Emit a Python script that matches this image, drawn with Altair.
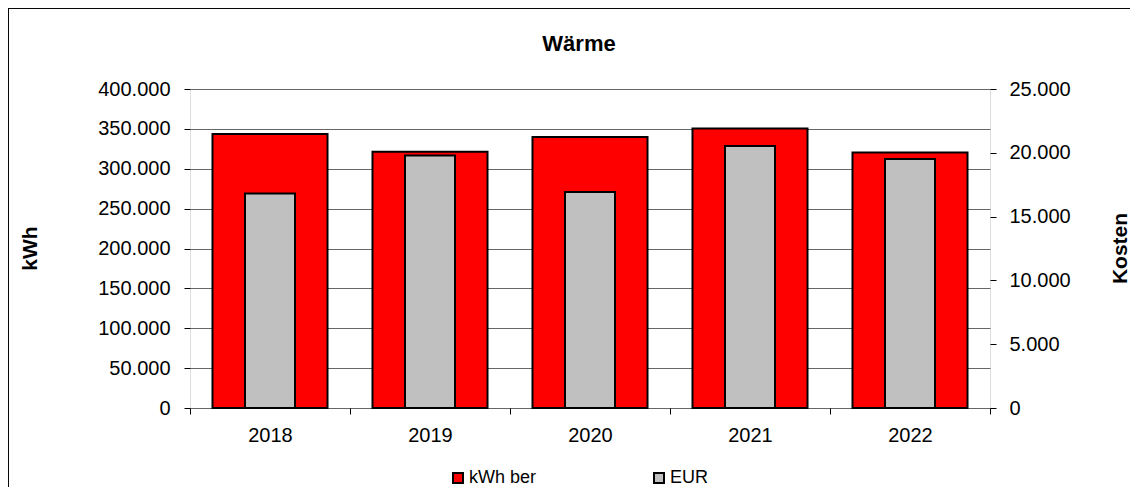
import altair as alt
import pandas as pd

years = ["2018", "2019", "2020", "2021", "2022"]
kwh = [343500, 321300, 339700, 350500, 320400]
eur = [16810, 19790, 16920, 20530, 19510]
series = ["kWh ber", "EUR"]
colors = ["#FF0000", "#C0C0C0"]

df = pd.DataFrame({"Jahr": years, "kWh": kwh, "EUR": eur})

FONT = "Liberation Sans"
FS = 20
de_fmt = "replace(format(datum.value, ',d'), ',', '.')"

x = alt.X("Jahr:N", title=None, sort=years,
          scale=alt.Scale(paddingInner=0, paddingOuter=0),
          axis=alt.Axis(labelAngle=0, tickBand="extent", tickSize=6, labelPadding=11,
                        domain=False, labelFont=FONT, labelFontSize=FS,
                        labelColor="black", tickColor="black"))

color_scale = alt.Scale(domain=series, range=colors)
legend = alt.Legend(title=None, orient="none", direction="horizontal",
                    legendX=259, legendY=380, symbolType="square", symbolSize=100,
                    symbolStrokeColor="black", symbolStrokeWidth=2, symbolOpacity=1,
                    labelFont=FONT, labelFontSize=18, labelColor="black",
                    columnPadding=113, labelOffset=2)

red = alt.Chart(df).transform_calculate(Serie="'kWh ber'").mark_bar(
    width=115, stroke="black", strokeWidth=2, opacity=1).encode(
    x=x,
    y=alt.Y("kWh:Q", title="kWh",
            scale=alt.Scale(domain=[0, 400000], nice=False),
            axis=alt.Axis(values=list(range(0, 400001, 50000)), labelExpr=de_fmt,
                          orient="left", tickSize=6, labelPadding=14, domain=False,
                          grid=True, gridColor="#666666", gridWidth=1,
                          labelFont=FONT, labelFontSize=FS, labelColor="black",
                          tickColor="black",
                          titleFont=FONT, titleFontSize=21, titleFontWeight="bold",
                          titleColor="black", titleAngle=270, titleX=-160, titleY=159,
                          titleAlign="center", titleBaseline="middle")),
    color=alt.Color("Serie:N", scale=color_scale, legend=legend),
)

gray = alt.Chart(df).transform_calculate(Serie="'EUR'").mark_bar(
    width=50, stroke="black", strokeWidth=2, opacity=1).encode(
    x=x,
    y=alt.Y("EUR:Q", title="Kosten",
            scale=alt.Scale(domain=[0, 25000], nice=False),
            axis=alt.Axis(values=list(range(0, 25001, 5000)), labelExpr=de_fmt,
                          orient="right", tickSize=6, labelPadding=13, domain=False,
                          grid=False,
                          labelFont=FONT, labelFontSize=FS, labelColor="black",
                          tickColor="black",
                          titleFont=FONT, titleFontSize=21, titleFontWeight="bold",
                          titleColor="black", titleAngle=270, titleX=130, titleY=159,
                          titleAlign="center", titleBaseline="middle")),
    color=alt.Color("Serie:N", scale=color_scale, legend=legend),
)

frame_top = alt.Chart(df).mark_rule(stroke="black", strokeWidth=1).encode(
    x=alt.value(-182), x2=alt.value(1300), y=alt.value(-81)
)
frame_left = alt.Chart(df).mark_rule(stroke="black", strokeWidth=1).encode(
    x=alt.value(-182), y=alt.value(-81), y2=alt.value(700)
)

chart = alt.layer(frame_top, frame_left, red, gray).resolve_scale(y="independent").properties(
    width=800, height=319,
    title=alt.TitleParams("Wärme", font=FONT, fontSize=22, fontWeight="bold",
                          color="black", offset=0, dy=48, dx=-11, anchor="middle"),
    autosize=alt.AutoSizeParams(type="none"),
    padding={"left": 182, "top": 81, "right": 140, "bottom": 79},
).configure_view(stroke="black", strokeWidth=2).configure(background="white")

chart.save("out.html", embed_options={"renderer": "svg", "actions": False})
